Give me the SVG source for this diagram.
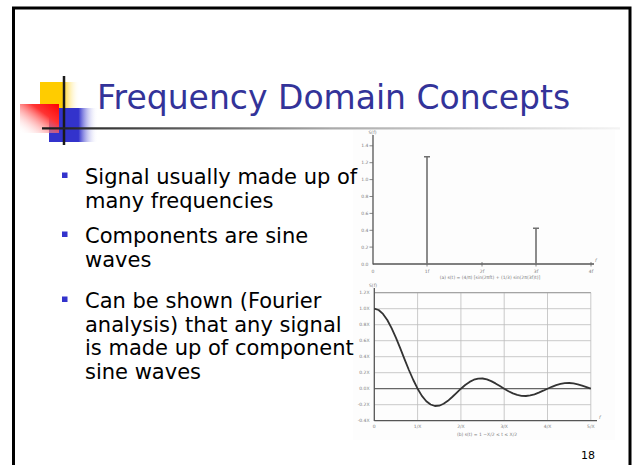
<svg xmlns="http://www.w3.org/2000/svg" width="632" height="465" viewBox="0 0 632 465">
<style>
.title{font-family:"DejaVu Sans",Verdana,sans-serif;font-size:33px;fill:#333399}
.body{font-family:"DejaVu Sans",Verdana,sans-serif;font-size:21px;fill:#000}
.bul{fill:#3333cc}
.tiny{font-family:"DejaVu Sans",sans-serif;font-size:4.5px;fill:#7a7a7a}
.tinyr{font-family:"DejaVu Sans",sans-serif;font-size:4.5px;fill:#7a7a7a;text-anchor:end}
.tinym{font-family:"DejaVu Sans",sans-serif;font-size:4.5px;fill:#7a7a7a;text-anchor:middle}
.ax{stroke:#555;stroke-width:1.3;fill:none}
.grid{stroke:#bdbdbd;stroke-width:0.8;fill:none}
.spike{stroke:#707070;stroke-width:1.6;fill:none}
.tick{stroke:#666;stroke-width:0.8}
</style>
<defs>
<linearGradient id="gY" x1="0" y1="0" x2="1" y2="0">
<stop offset="0" stop-color="#ffcc00"/><stop offset="0.55" stop-color="#ffcc00"/><stop offset="1" stop-color="#ffffff" stop-opacity="0"/>
</linearGradient>
<linearGradient id="gB" x1="0" y1="0" x2="1" y2="0">
<stop offset="0" stop-color="#3333cc"/><stop offset="0.6" stop-color="#3333cc"/><stop offset="1" stop-color="#ffffff" stop-opacity="0"/>
</linearGradient>
<linearGradient id="gR" x1="1" y1="0" x2="0" y2="1">
<stop offset="0" stop-color="#ff0000"/><stop offset="0.35" stop-color="#ff3333"/><stop offset="1" stop-color="#ffffff" stop-opacity="0"/>
</linearGradient>
<linearGradient id="gL" gradientUnits="userSpaceOnUse" x1="42" y1="0" x2="620" y2="0">
<stop offset="0" stop-color="#1a1a1a"/><stop offset="0.28" stop-color="#666"/><stop offset="0.5" stop-color="#aaa"/><stop offset="1" stop-color="#f4f4f4"/>
</linearGradient>
</defs>

<g id="frame">
<path d="M13.5 465 V8 H630 V465" fill="none" stroke="#000" stroke-width="3"/>
</g>

<g id="logo">
<rect x="40" y="82" width="40" height="26" fill="url(#gY)"/>
<rect x="49" y="108" width="49" height="34" fill="url(#gB)"/>
<rect x="20" y="104" width="39" height="29" fill="url(#gR)"/>
<line x1="64" y1="76" x2="64" y2="145" stroke="#1a1a1a" stroke-width="2.5"/>
<line x1="42" y1="128.3" x2="620" y2="128.3" stroke="url(#gL)" stroke-width="2.2"/>
</g>

<g id="title">
<text class="title" x="97" y="109">Frequency Domain Concepts</text>
</g>

<g id="chart-a">
<rect x="353" y="130" width="262" height="152" fill="#fdfdfd"/>
<text class="tinym" x="372.5" y="133.5">S(f)</text>
<line class="ax" x1="373" y1="135" x2="373" y2="264.5"/>
<line class="ax" x1="373" y1="264" x2="594" y2="264"/>
<g class="tick">
<line x1="369.5" y1="145.8" x2="373" y2="145.8"/><line x1="369.5" y1="162.7" x2="373" y2="162.7"/>
<line x1="369.5" y1="179.6" x2="373" y2="179.6"/><line x1="369.5" y1="196.5" x2="373" y2="196.5"/>
<line x1="369.5" y1="213.4" x2="373" y2="213.4"/><line x1="369.5" y1="230.3" x2="373" y2="230.3"/>
<line x1="369.5" y1="247.1" x2="373" y2="247.1"/>
<line x1="482" y1="262" x2="482" y2="266.5"/><line x1="591" y1="262" x2="591" y2="266.5"/>
<line x1="427" y1="264" x2="427" y2="266.5"/><line x1="536" y1="264" x2="536" y2="266.5"/>
</g>
<text class="tinyr" x="368.5" y="147.3">1.4</text>
<text class="tinyr" x="368.5" y="164.2">1.2</text>
<text class="tinyr" x="368.5" y="181.1">1.0</text>
<text class="tinyr" x="368.5" y="198">0.8</text>
<text class="tinyr" x="368.5" y="214.9">0.6</text>
<text class="tinyr" x="368.5" y="231.8">0.4</text>
<text class="tinyr" x="368.5" y="248.6">0.2</text>
<text class="tinyr" x="368.5" y="265.5">0.0</text>
<text class="tinym" x="373" y="273">0</text>
<text class="tinym" x="427" y="273">1f</text>
<text class="tinym" x="482" y="273">2f</text>
<text class="tinym" x="536" y="273">3f</text>
<text class="tinym" x="591" y="273">4f</text>
<text class="tiny" x="595" y="262" font-style="italic">f</text>
<text class="tinym" x="490" y="279">(a) s(t) = (4/π) [sin(2πft) + (1/3) sin(2π(3f)t)]</text>
<path class="spike" d="M427 264 V156.8 M424 156.8 H430 M536 264 V228.2 M533 228.2 H539"/>
</g>

<g id="chart-b">
<rect x="353" y="282" width="262" height="158" fill="#fdfdfd"/>
<text class="tinym" x="373" y="286.5">S(f)</text>
<path class="grid" d="M374.3 292.7 H590.8 M374.3 308.7 H590.8 M374.3 324.7 H590.8 M374.3 340.7 H590.8 M374.3 356.7 H590.8 M374.3 372.7 H590.8 M374.3 404.7 H590.8 M417.6 292.7 V420.7 M460.9 292.7 V420.7 M504.2 292.7 V420.7 M547.5 292.7 V420.7 M590.8 292.7 V420.7"/>
<line x1="374.3" y1="292.7" x2="590.8" y2="292.7" stroke="#999" stroke-width="1"/>
<line x1="374.3" y1="388.7" x2="590.8" y2="388.7" stroke="#666" stroke-width="1.3"/>
<line class="ax" x1="374.3" y1="288" x2="374.3" y2="421"/>
<line class="ax" x1="374.3" y1="420.7" x2="597" y2="420.7"/>
<text class="tinyr" x="369.5" y="294.2">1.2X</text>
<text class="tinyr" x="369.5" y="310.2">1.0X</text>
<text class="tinyr" x="369.5" y="326.2">0.8X</text>
<text class="tinyr" x="369.5" y="342.2">0.6X</text>
<text class="tinyr" x="369.5" y="358.2">0.4X</text>
<text class="tinyr" x="369.5" y="374.2">0.2X</text>
<text class="tinyr" x="369.5" y="390.2">0.0X</text>
<text class="tinyr" x="369.5" y="406.2">-0.2X</text>
<text class="tinyr" x="369.5" y="422.2">-0.4X</text>
<text class="tinym" x="374.3" y="428">0</text>
<text class="tinym" x="417.6" y="428">1/X</text>
<text class="tinym" x="460.9" y="428">2/X</text>
<text class="tinym" x="504.2" y="428">3/X</text>
<text class="tinym" x="547.5" y="428">4/X</text>
<text class="tinym" x="590.8" y="428">5/X</text>
<text class="tiny" x="599" y="419" font-style="italic">f</text>
<text class="tinym" x="487" y="436">(b) s(t) = 1    −X/2 ≤ t ≤ X/2</text>
<polyline fill="none" stroke="#333" stroke-width="1.8" stroke-linejoin="round" points="374.3,308.7 378.6,310.0 383.0,313.9 387.3,320.0 391.6,328.2 396.0,337.8 400.3,348.3 404.6,359.3 408.9,370.0 413.3,380.0 417.6,388.7 421.9,395.9 426.3,401.2 430.6,404.5 434.9,406.0 439.3,405.7 443.6,403.8 447.9,400.8 452.2,397.0 456.6,392.8 460.9,388.7 465.2,385.0 469.6,381.9 473.9,379.7 478.2,378.6 482.6,378.5 486.9,379.4 491.2,381.1 495.5,383.4 499.9,386.0 504.2,388.7 508.5,391.2 512.9,393.4 517.2,394.9 521.5,395.8 525.9,396.0 530.2,395.4 534.5,394.3 538.8,392.6 543.2,390.7 547.5,388.7 551.8,386.8 556.2,385.1 560.5,383.9 564.8,383.2 569.2,383.0 573.5,383.4 577.8,384.3 582.1,385.6 586.5,387.1 590.8,388.7"/>
</g>

<g id="bullets">
<rect class="bul" x="62" y="172.5" width="5.5" height="5.5"/>
<text class="body" x="85" y="184">Signal usually made up of</text>
<text class="body" x="85" y="207.5">many frequencies</text>
<rect class="bul" x="62" y="231.5" width="5.5" height="5.5"/>
<text class="body" x="85" y="243">Components are sine</text>
<text class="body" x="85" y="266.5">waves</text>
<rect class="bul" x="62" y="296.5" width="5.5" height="5.5"/>
<text class="body" x="85" y="308">Can be shown (Fourier</text>
<text class="body" x="85" y="331.5">analysis) that any signal</text>
<text class="body" x="85" y="355">is made up of component</text>
<text class="body" x="85" y="378.5">sine waves</text>
</g>

<g id="page-number">
<text x="588" y="459" font-family="DejaVu Sans, sans-serif" font-size="11" text-anchor="middle" fill="#000">18</text>
</g>
</svg>
